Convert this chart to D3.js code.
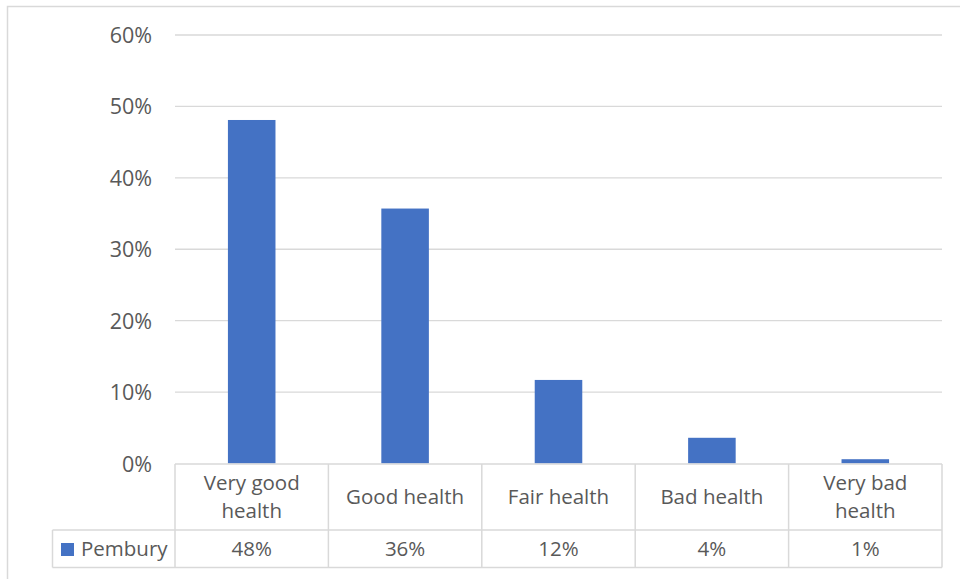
<!DOCTYPE html>
<html><head><meta charset="utf-8">
<script src="https://cdn.jsdelivr.net/npm/d3@7/dist/d3.min.js"></script>
<style>body{margin:0;background:#fff}svg{display:block}text{font-family:"Open Sans",sans-serif;fill:#595959}</style>
</head><body><svg id="c" width="960" height="579"></svg>
<script>
const categories = [["Very good","health"],["Good health"],["Fair health"],["Bad health"],["Very bad","health"]];
const values = [0.481, 0.357, 0.117, 0.036, 0.006];
const valueLabels = ["48%","36%","12%","4%","1%"];
const yTicks = [0,0.1,0.2,0.3,0.4,0.5,0.6];
const seriesName = "Pembury";
const color = "#4472c4", grid = "#d9d9d9";
const fs = "20.5px";

const svg = d3.select("#c");
const L = 175, R = 942, T = 35, B = 463.5;
const x = d3.scaleBand().domain(d3.range(categories.length)).range([L, R]).paddingInner(0.69).paddingOuter(0.345);
const xc = d3.scaleBand().domain(d3.range(categories.length)).range([L, R]);
const y = d3.scaleLinear().domain([0, 0.6]).range([B, T]);

// outer border
svg.append("path").attr("d","M7.5,579 V6.5 H960").attr("fill","none").attr("stroke",grid).attr("stroke-width",1.5);

// gridlines
svg.append("g").selectAll("line").data(yTicks.slice(1)).join("line")
  .attr("x1",L).attr("x2",R).attr("y1",d=>y(d)).attr("y2",d=>y(d))
  .attr("stroke",grid).attr("stroke-width",1.3);

// y axis labels
const yAxis = d3.axisLeft(y).tickValues(yTicks).tickFormat(d3.format(".0%")).tickSize(0).tickPadding(23);
const ga = svg.append("g").attr("transform",`translate(${L},0)`).call(yAxis);
ga.select(".domain").remove();
ga.selectAll("text").style("font-size","21.5px").attr("fill","#595959").attr("font-family","Open Sans").attr("dy","0.35em");

// bars
svg.append("g").selectAll("rect").data(values).join("rect")
  .attr("x",(d,i)=>x(i)).attr("width",x.bandwidth())
  .attr("y",d=>y(d)).attr("height",d=>B-y(d)).attr("fill",color);

// data table
const rowTop = 464, rowMid = 530, rowBot = 567.5, legL = 52.5;
const tg = svg.append("g").attr("stroke",grid).attr("stroke-width",1.5).attr("fill","none");
tg.append("line").attr("x1",L).attr("x2",R).attr("y1",rowTop).attr("y2",rowTop);
tg.append("line").attr("x1",legL).attr("x2",R).attr("y1",rowMid).attr("y2",rowMid);
tg.append("line").attr("x1",legL).attr("x2",R).attr("y1",rowBot).attr("y2",rowBot);
tg.append("line").attr("x1",legL).attr("x2",legL).attr("y1",rowMid).attr("y2",rowBot);
tg.selectAll(".v").data(d3.range(categories.length+1)).join("line")
  .attr("x1",i=>i<categories.length?xc(i):R).attr("x2",i=>i<categories.length?xc(i):R)
  .attr("y1",rowTop).attr("y2",rowBot);

// category labels
const cl = svg.append("g").selectAll("text").data(categories).join("text")
  .attr("text-anchor","middle").style("font-size",fs)
  .attr("x",(d,i)=>xc(i)+xc.bandwidth()/2);
cl.each(function(d){
  const t = d3.select(this);
  const mid = (rowTop+rowMid)/2;
  d.forEach((line,k)=>{
    t.append("tspan").attr("x",t.attr("x")).attr("y", mid + (k-(d.length-1)/2)*28).attr("dy","0.35em").text(line);
  });
});

// value labels
svg.append("g").selectAll("text").data(valueLabels).join("text")
  .attr("text-anchor","middle").style("font-size",fs)
  .attr("x",(d,i)=>xc(i)+xc.bandwidth()/2).attr("y",(rowMid+rowBot)/2).attr("dy","0.35em").text(d=>d);

// legend
svg.append("rect").attr("x",61).attr("y",543).attr("width",13).attr("height",13).attr("fill",color);
svg.append("text").attr("x",81).attr("y",(rowMid+rowBot)/2).attr("dy","0.35em").style("font-size",fs).text(seriesName);
</script></body></html>
